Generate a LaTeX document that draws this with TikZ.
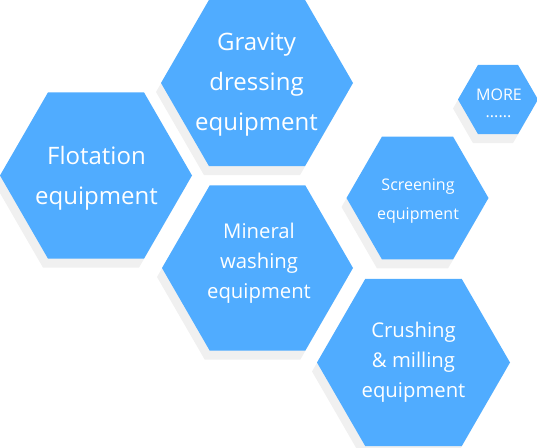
\documentclass[tikz,border=0pt]{standalone}
\usepackage{fontspec}
\setmainfont{Open Sans}
\usetikzlibrary{shapes.geometric}
\definecolor{hexblue}{RGB}{80,172,255}
\definecolor{hexshadow}{RGB}{240,240,240}

\begin{document}
\begin{tikzpicture}[
    x=1pt,
    y=-1pt,
    hexa/.style={
        regular polygon,
        regular polygon sides=6,
        inner sep=0pt,
        outer sep=0pt,
        minimum size=#1,
        fill=hexblue
    },
    hexback/.style={
        hexa=#1,
        fill=hexshadow,
        xshift=-5pt,
        yshift=-9pt
    },
    bigtxt/.style={
        text=white,
        align=center,
        font=\fontsize{24}{40}\selectfont
    },
    midtxt/.style={
        text=white,
        align=center,
        font=\fontsize{20.3}{30}\selectfont
    },
    smalltxt/.style={
        text=white,
        align=center,
        font=\fontsize{16}{29}\selectfont
    }
]

    \useasboundingbox (0,0) rectangle (537,447);

    % Shadows
    \foreach \x/\y/\d in {96/175.5/192, 257/83/192, 257.5/268/191,
                          417.5/198/142, 413.5/362.5/193, 498/99.5/80}
        \node [hexback=\d] at (\x,\y) {};

    % Hexagons
    \node [hexa=192] (flot) at (96,175.5) {};
    \node [hexa=192] (grav) at (257,83) {};
    \node [hexa=191] (mine) at (257.5,268) {};
    \node [hexa=142] (scrn) at (417.5,198) {};
    \node [hexa=193] (crush) at (413.5,362.5) {};
    \node [hexa=80] (more) at (498,99.5) {};

    % Texts
    \node [bigtxt] (flottxt) at (96.5,178.5) {Flotation\\equipment};
    \node [bigtxt] (gravtxt) at (256.5,84.5) {Gravity\\dressing\\equipment};
    \node [midtxt] (minetxt) at (259,263) {Mineral\\washing\\equipment};
    \node [smalltxt] (scrntxt) at (418,201) {Screening\\equipment};
    \node [midtxt] (crushtxt) at (413.5,362.5) {Crushing\\\& milling\\equipment};
    \node [smalltxt, font=\fontsize{16}{18}\selectfont] (moretxt) at (499,94.5) {MORE};
    \node [smalltxt, font=\fontsize{16}{18}\selectfont] (dots) at (498.5,116.5) {......};

\end{tikzpicture}
\end{document}
